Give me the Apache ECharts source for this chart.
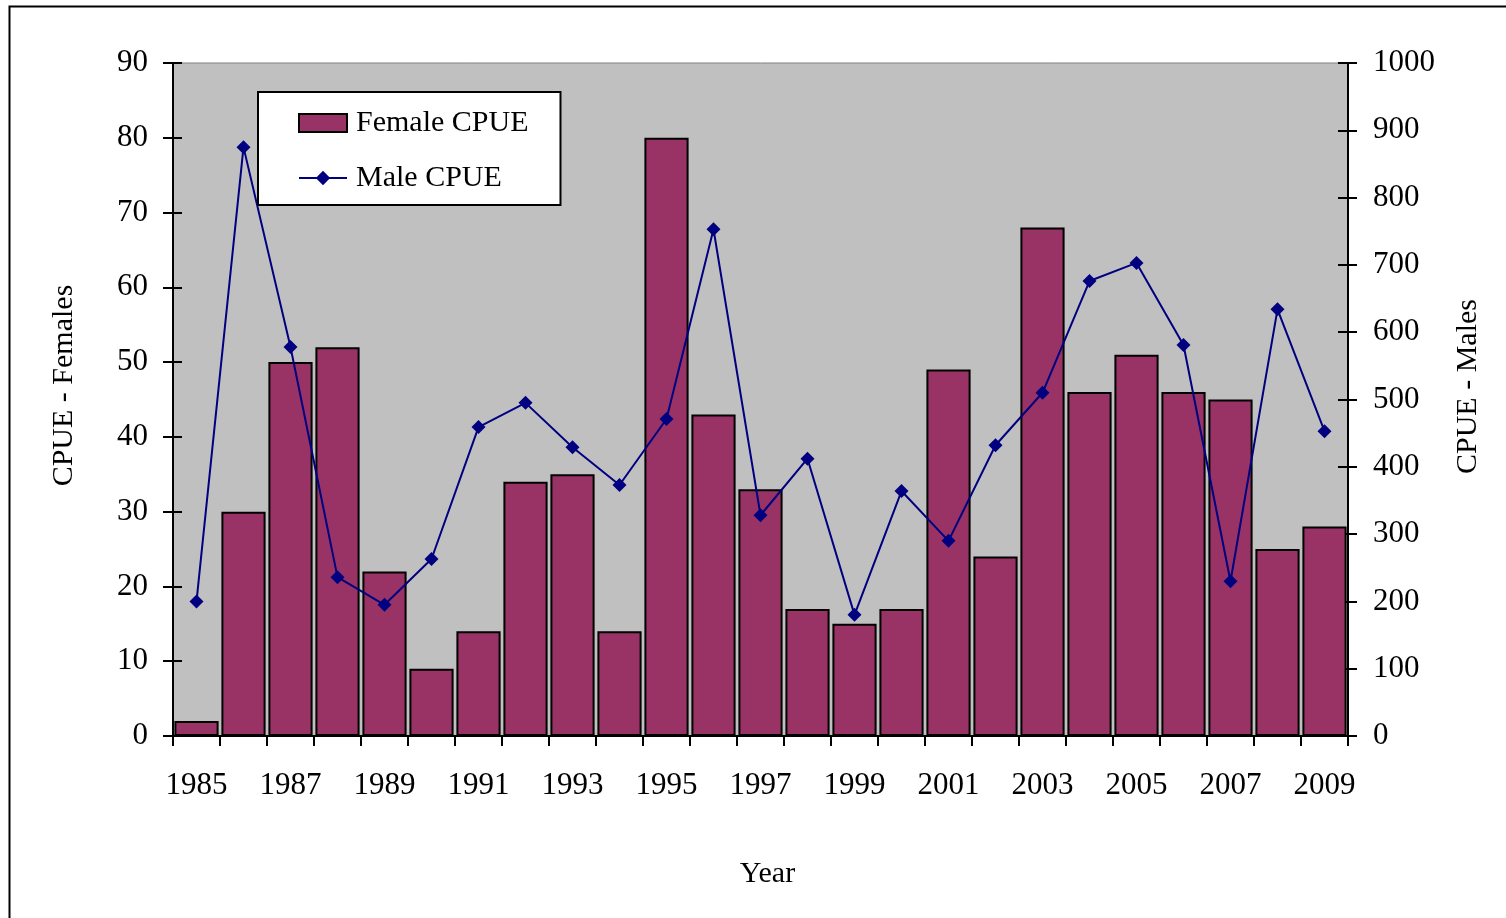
<!DOCTYPE html>
<html lang="en">
<head>
<meta charset="UTF-8">
<title>CPUE</title>
<script src="https://cdn.jsdelivr.net/npm/echarts@6/dist/echarts.min.js"></script>
</head>
<body style="margin:0;background:#fff">
<div id="chart" style="width:1506px;height:918px;"></div>
<script type="text/javascript">
// data
var years = ['1985','1986','1987','1988','1989','1990','1991','1992','1993','1994','1995','1996','1997',
             '1998','1999','2000','2001','2002','2003','2004','2005','2006','2007','2008','2009'];
var femaleCpue = [2, 30, 50, 52, 22, 9, 14, 34, 35, 14, 80, 43, 33, 17, 15, 17, 49, 24, 68, 46, 51, 46, 45, 25, 28];
var maleCpue = [200, 875, 578, 236, 195, 263, 459, 495, 429, 373, 471, 753, 328, 412, 180, 364, 290, 432, 510, 676, 703, 581, 230, 634, 453];

var font = 'Liberation Serif, Times New Roman, serif';

var chart = echarts.init(document.getElementById('chart'));
chart.setOption({
    animation: false,
    backgroundColor: '#fff',
    graphic: [{
        type: 'rect', left: 7, top: 4,
        shape: {width: 1600, height: 1000},
        style: {fill: 'none', stroke: '#000', lineWidth: 2}
    }],
    grid: [
        {left: 173, right: 158, top: 63, bottom: 182, show: true,
         backgroundColor: '#c0c0c0', borderColor: '#808080', borderWidth: 1},
        {left: 173, right: 158, top: 63, bottom: 182}
    ],
    legend: {
        left: 258, top: 92, orient: 'vertical',
        backgroundColor: '#fff', borderColor: '#000', borderWidth: 2,
        padding: [16, 32, 12, 40],
        itemWidth: 48, itemHeight: 18, itemGap: 25,
        textStyle: {color: '#000', fontFamily: font, fontSize: 30, lineHeight: 28, padding: [0, 0, 0, 4]},
        data: [{name: 'Female CPUE', icon: 'rect'}, 'Male CPUE']
    },
    xAxis: [{
        type: 'category', data: years, gridIndex: 0,
        name: 'Year', nameLocation: 'middle', nameGap: 123,
        nameTextStyle: {color: '#000', fontFamily: font, fontSize: 30, padding: [0, 0, 0, 14]},
        axisLine: {lineStyle: {color: '#000', width: 2}},
        axisTick: {show: true, interval: 0, length: 10, lineStyle: {color: '#000', width: 2}},
        axisLabel: {interval: 1, margin: 34, color: '#000', fontFamily: font, fontSize: 31}
    }, {
        type: 'category', data: years, gridIndex: 1, show: false
    }],
    yAxis: [{
        type: 'value', min: 0, max: 90, interval: 10, position: 'left', gridIndex: 0,
        name: 'CPUE - Females', nameLocation: 'middle', nameGap: 94, nameRotate: 90,
        nameTextStyle: {color: '#000', fontFamily: font, fontSize: 30, padding: [0, 0, 0, 28]},
        axisLine: {show: true, lineStyle: {color: '#000', width: 2}},
        axisTick: {show: true, length: 10, lineStyle: {color: '#000', width: 2}},
        axisLabel: {margin: 25, color: '#000', fontFamily: font, fontSize: 31},
        splitLine: {show: false}
    }, {
        type: 'value', min: 0, max: 1000, interval: 100, position: 'right', gridIndex: 0,
        name: 'CPUE - Males', nameLocation: 'middle', nameGap: 105, nameRotate: 90,
        nameTextStyle: {color: '#000', fontFamily: font, fontSize: 30, padding: [0, 0, 0, 26]},
        axisLine: {show: true, lineStyle: {color: '#000', width: 2}},
        axisTick: {show: true, length: 9, lineStyle: {color: '#000', width: 2}},
        axisLabel: {margin: 25, color: '#000', fontFamily: font, fontSize: 31,
                    formatter: function (v) { return String(v); }},
        splitLine: {show: false}
    }, {
        // inner halves of the crossing ticks
        type: 'value', min: 0, max: 90, interval: 10, position: 'left', gridIndex: 1,
        axisLine: {show: false}, axisLabel: {show: false}, splitLine: {show: false},
        axisTick: {show: true, inside: true, length: 9, lineStyle: {color: '#000', width: 2}}
    }, {
        type: 'value', min: 0, max: 1000, interval: 100, position: 'right', gridIndex: 1,
        axisLine: {show: false}, axisLabel: {show: false}, splitLine: {show: false},
        axisTick: {show: true, inside: true, length: 10, lineStyle: {color: '#000', width: 2}}
    }],
    series: [{
        name: 'Female CPUE', type: 'bar', data: femaleCpue,
        xAxisIndex: 0, yAxisIndex: 0, barCategoryGap: '6%',
        itemStyle: {color: '#993366', borderColor: '#000', borderWidth: 2}
    }, {
        name: 'Male CPUE', type: 'line', data: maleCpue,
        xAxisIndex: 0, yAxisIndex: 1,
        symbol: 'diamond', symbolSize: 14,
        lineStyle: {color: '#000080', width: 2},
        itemStyle: {color: '#000080'}
    }]
});
</script>
</body>
</html>
